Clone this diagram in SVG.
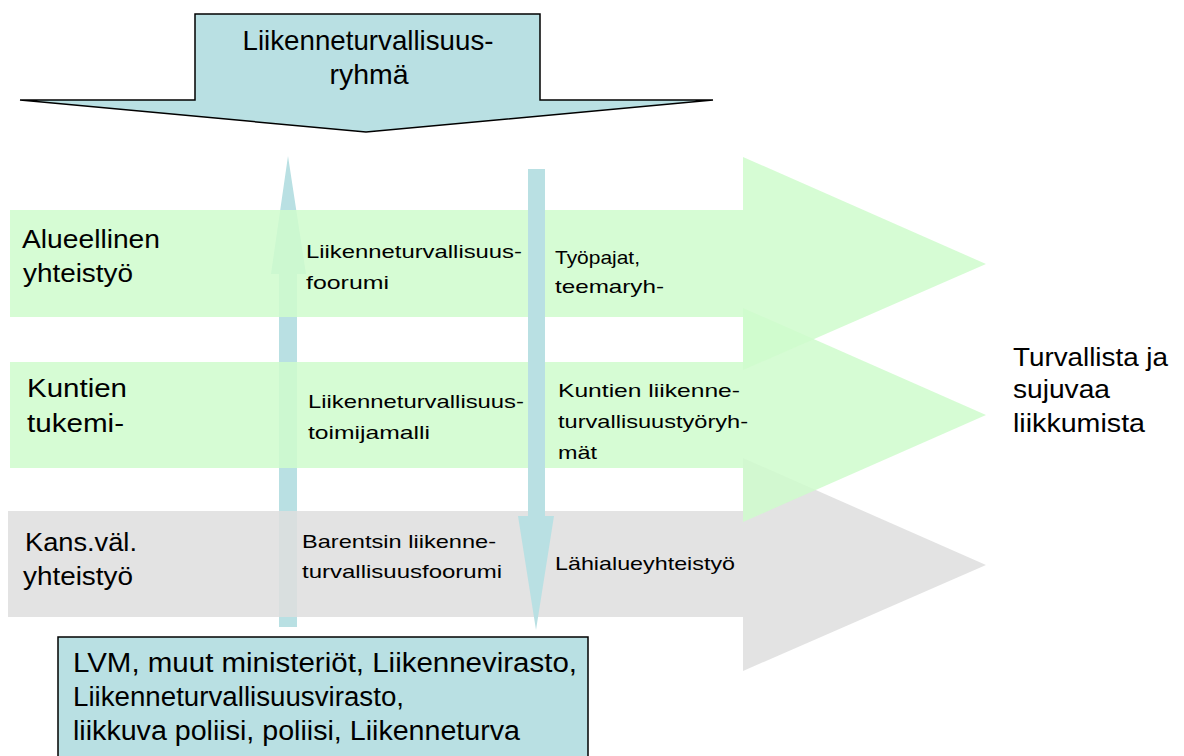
<svg xmlns="http://www.w3.org/2000/svg" width="1184" height="756" viewBox="0 0 1184 756">
<style>
text{font-family:"Liberation Sans",Arial,sans-serif;fill:#000}
.lbl{font-size:25px}
.mid{font-size:19px}
.top{font-size:28px}
.box{font-size:27px}
.green{fill:#cffbcc;fill-opacity:0.85}
.gray{fill:#dedede;fill-opacity:0.85}
.blue{fill:#b9e0e3}
</style>
<rect width="1184" height="756" fill="#fff"/>
<g id="connectors">
<polygon id="arrow-up" class="blue" points="279,627 279,274 271,274 288,156 306,274 297,274 297,627"/>
</g>
<g id="band-kans">
<polygon class="gray" points="8,511 743,511 743,458 986,565 743,671 743,617 8,617"/>
<text class="lbl" x="25" y="551" textLength="112" lengthAdjust="spacingAndGlyphs">Kans.väl.</text>
<text class="lbl" x="23" y="585" textLength="110" lengthAdjust="spacingAndGlyphs">yhteistyö</text>
</g>
<g id="band-kuntien">
<polygon class="green" points="10,362 743,362 743,308 986,415 743,522 743,468 10,468"/>
<text class="lbl" x="27" y="397" textLength="100" lengthAdjust="spacingAndGlyphs">Kuntien</text>
<text class="lbl" x="27" y="432" textLength="97" lengthAdjust="spacingAndGlyphs">tukemi-</text>
</g>
<g id="band-alueellinen">
<polygon class="green" points="10,210 743,210 743,157 986,264 743,370 743,317 10,317"/>
<text class="lbl" x="22" y="248" textLength="138" lengthAdjust="spacingAndGlyphs">Alueellinen</text>
<text class="lbl" x="23" y="282" textLength="110" lengthAdjust="spacingAndGlyphs">yhteistyö</text>
</g>
<g id="connectors-down">
<polygon id="arrow-down" class="blue" points="528,169 545,169 545,516 554,516 536,630 518,516 528,516"/>
</g>
<g id="top-group">
<polygon class="blue" stroke="#000" stroke-width="1.5" points="195,14 540,14 540,100 713,100 366,132 20,100 195,100"/>
<text class="top" x="368" y="50" text-anchor="middle" textLength="251" lengthAdjust="spacingAndGlyphs">Liikenneturvallisuus-</text>
<text class="top" x="369" y="84" text-anchor="middle" textLength="79" lengthAdjust="spacingAndGlyphs">ryhmä</text>
</g>
<g id="cell-foorumi">
<text class="mid" x="306" y="258" textLength="216" lengthAdjust="spacingAndGlyphs">Liikenneturvallisuus-</text>
<text class="mid" x="306" y="289" textLength="83" lengthAdjust="spacingAndGlyphs">foorumi</text>
</g>
<g id="cell-tyopajat">
<text class="mid" x="555" y="264" textLength="85" lengthAdjust="spacingAndGlyphs">Työpajat,</text>
<text class="mid" x="555" y="293" textLength="109" lengthAdjust="spacingAndGlyphs">teemaryh-</text>
</g>
<g id="cell-toimijamalli">
<text class="mid" x="308" y="408" textLength="216" lengthAdjust="spacingAndGlyphs">Liikenneturvallisuus-</text>
<text class="mid" x="308" y="439" textLength="122" lengthAdjust="spacingAndGlyphs">toimijamalli</text>
</g>
<g id="cell-tyoryhmat">
<text class="mid" x="558" y="397" textLength="182" lengthAdjust="spacingAndGlyphs">Kuntien liikenne-</text>
<text class="mid" x="558" y="428" textLength="190" lengthAdjust="spacingAndGlyphs">turvallisuustyöryh-</text>
<text class="mid" x="558" y="459" textLength="39" lengthAdjust="spacingAndGlyphs">mät</text>
</g>
<g id="cell-barents">
<text class="mid" x="302" y="548" textLength="194" lengthAdjust="spacingAndGlyphs">Barentsin liikenne-</text>
<text class="mid" x="302" y="578" textLength="200" lengthAdjust="spacingAndGlyphs">turvallisuusfoorumi</text>
</g>
<g id="cell-lahialue">
<text class="mid" x="555" y="570" textLength="180" lengthAdjust="spacingAndGlyphs">Lähialueyhteistyö</text>
</g>
<g id="goal">
<text class="lbl" x="1013" y="366" textLength="155" lengthAdjust="spacingAndGlyphs">Turvallista ja</text>
<text class="lbl" x="1013" y="398" textLength="97" lengthAdjust="spacingAndGlyphs">sujuvaa</text>
<text class="lbl" x="1013" y="432" textLength="132" lengthAdjust="spacingAndGlyphs">liikkumista</text>
</g>
<g id="actors">
<rect class="blue" x="58" y="637" width="530" height="130" stroke="#000" stroke-width="1.5"/>
<text class="box" x="73" y="672" textLength="504" lengthAdjust="spacingAndGlyphs">LVM, muut ministeriöt, Liikennevirasto,</text>
<text class="box" x="73" y="706" textLength="331" lengthAdjust="spacingAndGlyphs">Liikenneturvallisuusvirasto,</text>
<text class="box" x="73" y="740" textLength="447" lengthAdjust="spacingAndGlyphs">liikkuva poliisi, poliisi, Liikenneturva</text>
</g>
</svg>
